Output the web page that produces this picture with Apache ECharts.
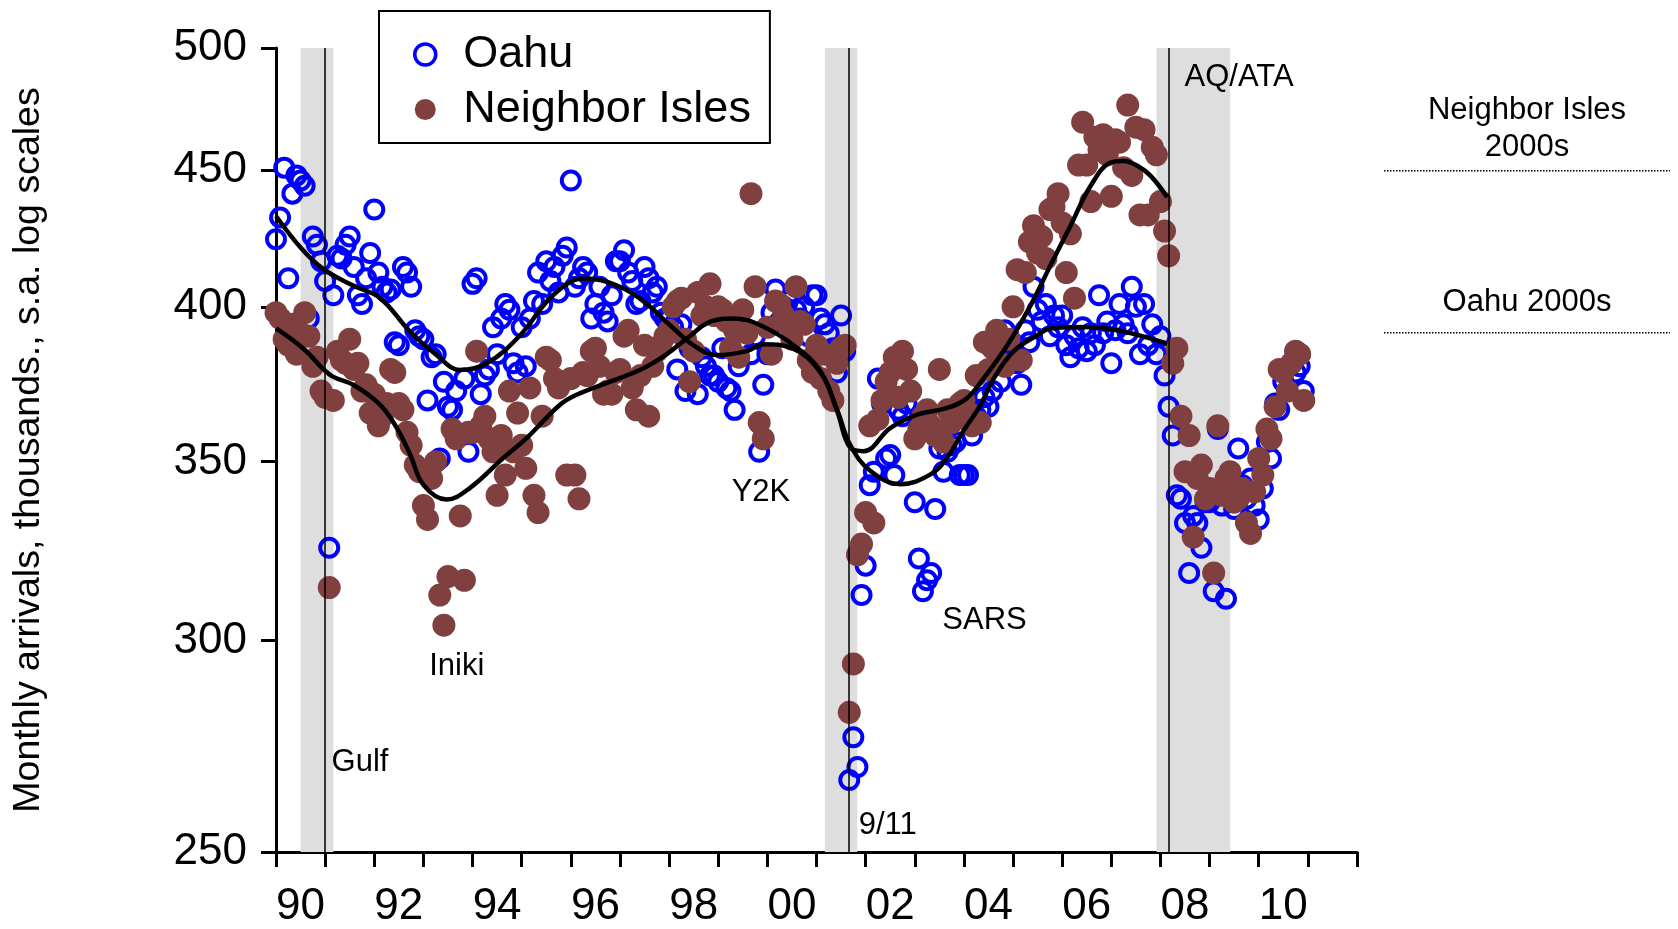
<!DOCTYPE html>
<html>
<head>
<meta charset="utf-8">
<script src="https://cdn.jsdelivr.net/npm/echarts@6/dist/echarts.min.js"></script>
<style>
html,body{margin:0;padding:0;background:#fff;}
#chart{width:1678px;height:929px;}
</style>
</head>
<body>
<div id="chart"></div>
<script>
// ---------- data ----------
const startYear = 1990;
const yearCategories = ['90','91','92','93','94','95','96','97','98','99','00','01','02','03','04','05','06','07','08','09','10','11'];
const yTickValues = [250, 300, 350, 400, 450, 500];

// monthly, Jan 1990 .. Dec 2010 (thousands, s.a.)
const oahu = [
 424,432,451,410,441,448,446,444,396,425,422,416,
 409,325,404,418,417,422,425,414,404,401,410,419,
 435,412,407,405,406,388,387,414,412,407,392,390,
 389,369,383,384,351,375,367,366,372,358,376,353,
 408,410,371,377,379,393,384,396,401,399,381,378,
 393,380,396,402,412,401,416,409,414,405,418,421,
 446,407,410,414,412,396,401,407,398,395,404,416,
 416,420,412,409,401,402,414,410,405,407,398,396,
 396,393,379,394,372,386,385,371,383,380,377,377,
 375,386,373,372,366,380,388,392,384,390,353,374,
 384,398,406,395,400,402,393,399,396,400,390,404,
 404,396,394,391,386,378,397,385,266,276,269,312,
 320,343,347,376,368,351,352,346,366,364,368,372,
 338,322,313,316,318,336,354,347,353,355,356,346,
 346,346,358,364,366,370,367,372,391,375,392,388,
 386,381,374,392,388,407,399,395,401,390,397,393,
 397,387,383,390,386,393,385,391,387,404,391,395,
 381,392,401,394,391,407,400,384,401,387,394,384,
 390,377,367,358,340,339,332,318,334,332,325,338,
 338,313,360,337,311,340,336,354,343,339,345,337,
 333,342,356,351,368,366,375,372,381,378,380,372
];
const neighbor = [
 398,396,389,387,394,384,391,398,390,380,383,372,
 370,314,369,385,382,381,389,379,381,372,374,365,
 371,361,364,368,379,378,368,366,359,355,349,347,
 337,333,345,350,312,304,317,360,357,334,316,359,
 359,385,361,364,357,353,340,358,346,372,353,365,
 355,348,373,340,335,364,383,382,376,373,375,346,
 376,346,339,378,377,385,386,380,371,372,371,378,
 379,390,392,373,366,377,387,364,380,385,387,390,
 392,400,402,403,389,375,385,405,397,400,408,397,
 400,399,395,386,392,383,399,391,441,407,362,357,
 393,384,402,401,397,394,389,407,395,394,382,378,
 387,376,384,372,369,381,386,387,282,294,323,326,
 335,361,332,363,369,375,378,383,370,385,379,372,
 357,360,364,366,361,358,379,356,366,362,364,368,
 369,365,361,377,362,388,379,386,392,381,380,389,
 400,413,382,412,423,429,419,425,417,435,436,441,
 430,412,426,403,452,469,452,438,463,458,464,456,
 440,462,461,451,476,448,467,433,466,433,459,456,
 438,427,418,381,386,364,347,358,328,345,349,339,
 342,318,361,340,345,347,338,339,342,332,329,341,
 351,346,360,357,367,379,378,372,381,385,384,369
];

// smoothed trends [year, value]
const oahuTrend = [
 [1990.0,432.6],[1990.5,421],[1990.96,413.3],[1991.57,407.4],[1992.12,403],[1992.73,391.5],
 [1993.27,383.7],[1993.75,378.8],[1994.29,381],[1994.97,390.3],[1995.51,401.8],[1995.99,408.7],
 [1996.29,409.9],[1996.94,407.4],[1997.48,401.9],[1998.02,393.7],[1998.5,386.9],[1998.97,383.7],
 [1999.58,385],[1999.92,387.3],[2000.5,386],[2001.08,378],[2001.42,366],[2001.69,355],
 [2002.1,347.2],[2002.71,343.3],[2003.32,346.2],[2003.66,351.2],[2003.95,358.5],[2004.34,367.6],
 [2004.61,376.1],[2005.01,384.9],[2005.49,390.3],[2005.76,392.6],[2006.44,393.1],[2007.12,392],
 [2007.8,389.2],[2008.14,387.5]
];
const neighborTrend = [
 [1990.0,392.6],[1990.56,385.8],[1991.1,377.2],[1991.57,374],[1992.12,367.6],[1992.46,360.3],
 [1992.73,352.2],[1993.0,343.1],[1993.47,338.8],[1993.95,342.2],[1994.63,351.2],[1995.1,357.2],
 [1995.78,367.6],[1996.12,370.8],[1996.8,375],[1997.48,379.4],[1997.96,384.1],[1998.36,389.2],
 [1998.84,394.9],[1999.31,396],[1999.86,393.7],[2000.54,386.9],[2001.08,378.4],[2001.42,365.6],
 [2001.69,354.2],[2001.96,353.2],[2002.5,360.3],[2003.05,364.5],[2003.66,366.6],[2004.06,369.7],
 [2004.4,376.1],[2004.88,386.9],[2005.36,400.6],[2005.76,414.5],[2006.17,429],[2006.58,444],
 [2006.99,453],[2007.25,453.6],[2007.53,451.7],[2007.8,447.8],[2008.14,439.6]
];

// recessions (shaded) and event dates (vertical lines)
const recessions = [[1990.5, 1991.17], [2001.17, 2001.83], [2007.92, 2009.42]];
const eventLines = [1991.0, 2001.66, 2008.17];
// event labels: [text, year, level]
const eventLabels = [
 ['Gulf', 1991.71, 270.8], ['Iniki', 1993.68, 294.2], ['Y2K', 1999.87, 341.8],
 ['9/11', 2002.45, 256.4], ['SARS', 2004.42, 306.1], ['AQ/ATA', 2009.60, 488.6]
];
// 2000s reference levels (right margin)
const levelNames = ['Neighbor Isles\n2000s', 'Oahu 2000s'];
const levelValues = [450, 391.6];

// ---------- chart ----------
const FONT = '"Liberation Sans", Arial, Helvetica, sans-serif';
const L = v => Math.log(v);
const monthly = arr => arr.map((v, i) => [startYear + i / 12, L(v)]);
const trend = arr => arr.map(p => [p[0], L(p[1])]);

const chart = echarts.init(document.getElementById('chart'), null, {renderer: 'canvas'});

const labelDist = [4, 11];

const option = {
  animation: false,
  backgroundColor: '#fff',
  textStyle: {fontFamily: FONT},
  grid: [
    {left: 276, top: 48, width: 1081, height: 808, containLabel: false},
    {left: 1384, top: 48, width: 286, height: 808, containLabel: false}
  ],
  legend: {
    orient: 'vertical', left: 379, top: 11,
    padding: [21, 19, 11, 34],
    itemWidth: 66, itemHeight: 21, itemGap: 10,
    borderColor: '#000', borderWidth: 2,
    textStyle: {fontSize: 45, color: '#000', fontFamily: FONT},
    data: [
      {name: 'Oahu', icon: 'circle', itemStyle: {borderWidth: 3.5}},
      {name: 'Neighbor Isles', icon: 'circle'}
    ]
  },
  xAxis: [
    {
      gridIndex: 0, type: 'category', data: yearCategories, boundaryGap: true,
      axisLine: {show: true, lineStyle: {color: '#000', width: 3}},
      axisTick: {show: true, interval: 0, length: 15, lineStyle: {color: '#000', width: 3}},
      axisLabel: {interval: 1, fontSize: 44, color: '#000', margin: 33, fontFamily: FONT},
      splitLine: {show: false}
    },
    {gridIndex: 0, type: 'value', min: 1990, max: 2012, show: false},
    {gridIndex: 1, type: 'value', min: 0, max: 1, show: false}
  ],
  yAxis: [
    {
      gridIndex: 0, type: 'value', min: L(250), max: L(500),
      axisLine: {show: true, lineStyle: {color: '#000', width: 3}},
      axisTick: {show: true, length: 15, customValues: yTickValues.map(L), lineStyle: {color: '#000', width: 3}},
      axisLabel: {customValues: yTickValues.map(L), formatter: v => String(Math.round(Math.exp(v))),
                  fontSize: 44, color: '#000', margin: 29, fontFamily: FONT},
      splitLine: {show: false},
      name: 'Monthly arrivals, thousands., s.a. log scales',
      nameLocation: 'middle', nameGap: 228,
      nameTextStyle: {fontSize: 37.5, color: '#000', fontFamily: FONT}
    },
    {gridIndex: 1, type: 'value', min: L(250), max: L(500), show: false}
  ],
  series: [
    {
      name: 'events', type: 'line', xAxisIndex: 1, yAxisIndex: 0, z: 1,
      data: [[1990, L(400)]], showSymbol: false, lineStyle: {opacity: 0}, silent: true,
      markArea: {
        silent: true, itemStyle: {color: '#DEDEDE'},
        data: recessions.map(r => [{xAxis: r[0]}, {xAxis: r[1]}])
      },
      markLine: {
        silent: true, symbol: ['none', 'none'], label: {show: false},
        lineStyle: {color: '#000', width: 1.5, type: 'solid'},
        data: eventLines.map(x => ({xAxis: x}))
      }
    },
    {
      name: 'Oahu', type: 'scatter', xAxisIndex: 1, yAxisIndex: 0, z: 2,
      symbol: 'circle', symbolSize: 18,
      itemStyle: {color: 'rgba(255,255,255,0)', borderColor: '#0000FF', borderWidth: 4, opacity: 1},
      data: monthly(oahu)
    },
    {
      name: 'Neighbor Isles', type: 'scatter', xAxisIndex: 1, yAxisIndex: 0, z: 3,
      symbol: 'circle', symbolSize: 23,
      itemStyle: {color: '#804040', opacity: 1},
      data: monthly(neighbor)
    },
    {
      name: 'Oahu trend', type: 'line', xAxisIndex: 1, yAxisIndex: 0, z: 5,
      smooth: 0.4, showSymbol: false, symbol: 'none',
      lineStyle: {color: '#000', width: 4.5},
      data: trend(oahuTrend)
    },
    {
      name: 'Neighbor trend', type: 'line', xAxisIndex: 1, yAxisIndex: 0, z: 5,
      smooth: 0.4, showSymbol: false, symbol: 'none',
      lineStyle: {color: '#000', width: 4.5},
      data: trend(neighborTrend)
    },
    {
      name: 'event labels', type: 'scatter', xAxisIndex: 1, yAxisIndex: 0, z: 6,
      symbolSize: 1, itemStyle: {color: 'rgba(0,0,0,0)'}, silent: true,
      label: {show: true, position: 'inside', offset: [0, 3], formatter: p => p.name,
              fontSize: 31, color: '#000', textBorderWidth: 0, opacity: 1, fontFamily: FONT},
      data: eventLabels.map(e => ({name: e[0], value: [e[1], L(e[2])]}))
    },
    ...levelValues.map((v, i) => ({
      name: 'level' + i, type: 'line', xAxisIndex: 2, yAxisIndex: 1, z: 2,
      showSymbol: false, symbol: 'none', silent: true,
      lineStyle: {color: '#000', width: 1.5, type: 'dotted'},
      data: [[0, L(v)], [1, L(v)]]
    })),
    {
      name: 'level labels', type: 'scatter', xAxisIndex: 2, yAxisIndex: 1, z: 3,
      symbolSize: 1, itemStyle: {color: 'rgba(0,0,0,0)'}, silent: true,
      label: {show: true, position: 'top', formatter: p => p.name,
              fontSize: 31, lineHeight: 37, align: 'center', color: '#000',
              textBorderWidth: 0, opacity: 1, fontFamily: FONT},
      data: levelValues.map((v, i) => ({name: levelNames[i], value: [0.5, L(v)], label: {distance: labelDist[i]}}))
    }
  ]
};
chart.setOption(option);
</script>
</body>
</html>
